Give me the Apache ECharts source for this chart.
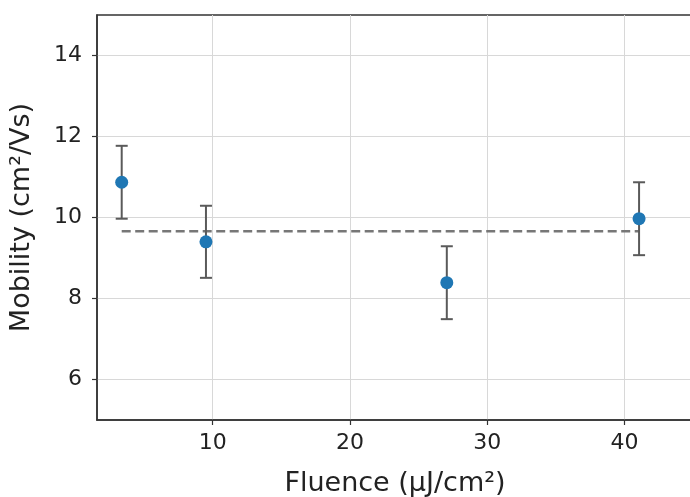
<!DOCTYPE html>
<html>
<head>
<meta charset="utf-8">
<script src="https://cdn.jsdelivr.net/npm/echarts@6/dist/echarts.min.js"></script>
<style>html,body{margin:0;padding:0;background:#fff;}#c{width:690px;height:497px;}</style>
</head>
<body>
<div id="c"></div>
<script>
// Data
const fluence = [3.37, 9.51, 27.06, 41.07];
const mobility = [10.87, 9.40, 8.39, 9.97];
const errHalf = [0.90, 0.89, 0.90, 0.90];
const meanMobility = 9.66;
const xTicks = [10, 20, 30, 40];
const yTicks = [6, 8, 10, 12, 14];
const xRange = [1.57, 45];
const yRange = [5, 15];

const font = 'DejaVu Sans';
const chart = echarts.init(document.getElementById('c'), null, {renderer: 'canvas'});

const pts = fluence.map((x, i) => [x, mobility[i]]);
const errs = fluence.map((x, i) => [x, mobility[i] - errHalf[i], mobility[i] + errHalf[i]]);
const meanLine = [[fluence[0], meanMobility], [fluence[fluence.length - 1], meanMobility]];

chart.setOption({
  animation: false,
  backgroundColor: '#fff',
  grid: {left: 97, top: 15, width: 596, height: 405, outerBoundsMode: 'none', containLabel: false,
         show: true, borderColor: '#333', borderWidth: 1.5, backgroundColor: 'transparent'},
  xAxis: {
    type: 'value', min: xRange[0], max: xRange[1],
    name: 'Fluence (μJ/cm²)', nameLocation: 'middle', nameGap: 50,
    nameTextStyle: {fontFamily: font, fontSize: 27, color: '#222'},
    axisLine: {show: true, onZero: false, lineStyle: {color: '#333', width: 1.5}},
    axisTick: {show: true, inside: false, length: 5, customValues: xTicks, lineStyle: {color: '#333', width: 1.2}},
    axisLabel: {customValues: xTicks, margin: 12, fontFamily: font, fontSize: 22, color: '#222'},
    splitLine: {show: true, lineStyle: {color: '#d8d8d8', width: 1}}
  },
  yAxis: {
    type: 'value', min: yRange[0], max: yRange[1],
    name: 'Mobility (cm²/Vs)', nameLocation: 'middle', nameGap: 62,
    nameTextStyle: {fontFamily: font, fontSize: 27, color: '#222'},
    axisLine: {show: true, onZero: false, lineStyle: {color: '#333', width: 1.5}},
    axisTick: {show: true, inside: false, length: 5, customValues: yTicks, lineStyle: {color: '#333', width: 1.2}},
    axisLabel: {customValues: yTicks, margin: 15, fontFamily: font, fontSize: 22, color: '#222'},
    splitLine: {show: true, lineStyle: {color: '#d8d8d8', width: 1}}
  },
  series: [
    {
      type: 'line', data: meanLine, symbol: 'none', z: 2,
      lineStyle: {color: '#777', width: 2.4, type: [9, 4.5]}
    },
    {
      type: 'custom', data: errs, z: 3,
      renderItem: function (params, api) {
        const x = api.value(0);
        const lo = api.coord([x, api.value(1)]);
        const hi = api.coord([x, api.value(2)]);
        const cap = 6;
        const style = {stroke: '#5a5a5a', lineWidth: 2};
        return {
          type: 'group',
          children: [
            {type: 'line', shape: {x1: lo[0], y1: lo[1], x2: hi[0], y2: hi[1]}, style: style},
            {type: 'line', shape: {x1: lo[0] - cap, y1: lo[1], x2: lo[0] + cap, y2: lo[1]}, style: style},
            {type: 'line', shape: {x1: hi[0] - cap, y1: hi[1], x2: hi[0] + cap, y2: hi[1]}, style: style}
          ]
        };
      }
    },
    {
      type: 'scatter', data: pts, symbol: 'circle', symbolSize: 13, z: 4,
      itemStyle: {color: '#1f77b4', opacity: 1}
    }
  ]
});
</script>
</body>
</html>
